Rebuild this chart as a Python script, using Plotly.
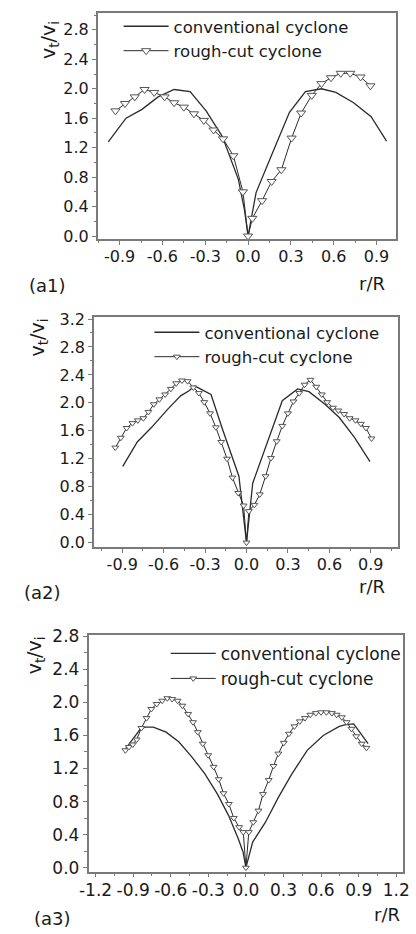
import plotly.graph_objects as go

W, H = 416, 934

# ---------------- data ----------------
# panel (a1)
a1_conv_r = [-0.979, -0.855, -0.743, -0.63, -0.518, -0.406, -0.294, -0.18, -0.068, -0.025, 0.0,
             0.056, 0.165, 0.29, 0.402, 0.514, 0.615, 0.739, 0.862, 0.97]
a1_conv_v = [1.28, 1.60, 1.72, 1.89, 1.99, 1.96, 1.70, 1.35, 0.77, 0.35, 0.0,
             0.59, 1.10, 1.68, 1.96, 2.0, 1.95, 1.81, 1.62, 1.29]
a1_rough_r = [-0.929, -0.862, -0.794, -0.725, -0.658, -0.585, -0.518, -0.45, -0.379, -0.31, -0.242,
              -0.175, -0.103, -0.036, 0.0, 0.03, 0.098, 0.165, 0.233, 0.305, 0.372, 0.446, 0.514,
              0.581, 0.649, 0.716, 0.788, 0.857]
a1_rough_v = [1.70, 1.80, 1.89, 1.99, 1.95, 1.89, 1.81, 1.75, 1.66, 1.57, 1.44,
              1.32, 1.09, 0.60, 0.0, 0.24, 0.48, 0.74, 0.90, 1.33, 1.67, 1.91, 2.07,
              2.15, 2.21, 2.21, 2.16, 2.04]

# panel (a2)
a2_conv_r = [-0.896, -0.791, -0.687, -0.57, -0.477, -0.419, -0.373, -0.257, -0.175, -0.105, -0.055,
             -0.036, 0.0, 0.045, 0.150, 0.259, 0.370, 0.452, 0.568, 0.672, 0.784, 0.894]
a2_conv_v = [1.09, 1.44, 1.65, 1.91, 2.10, 2.17, 2.24, 2.12, 1.63, 1.25, 0.95,
             0.62, 0.0, 0.85, 1.44, 2.03, 2.20, 2.16, 1.98, 1.79, 1.50, 1.16]
a2_rough_r = [-0.95, -0.91, -0.868, -0.826, -0.787, -0.747, -0.71, -0.671, -0.631, -0.589, -0.548,
              -0.509, -0.467, -0.427, -0.385, -0.345, -0.306, -0.264, -0.222, -0.183, -0.141,
              -0.102, -0.06, -0.021, 0.0, 0.017, 0.057, 0.096, 0.138, 0.177, 0.219, 0.259,
              0.30, 0.34, 0.382, 0.421, 0.463, 0.505, 0.545, 0.584, 0.626, 0.665, 0.707,
              0.747, 0.789, 0.828, 0.865, 0.905]
a2_rough_v = [1.36, 1.50, 1.64, 1.71, 1.75, 1.78, 1.87, 1.98, 2.05, 2.12, 2.20,
              2.28, 2.32, 2.31, 2.22, 2.14, 2.01, 1.85, 1.65, 1.44, 1.20,
              0.93, 0.71, 0.53, 0.0, 0.45, 0.54, 0.69, 0.95, 1.21, 1.45, 1.67,
              1.85, 2.02, 2.14, 2.26, 2.33, 2.23, 2.12, 2.01, 1.93, 1.89, 1.84,
              1.78, 1.75, 1.70, 1.64, 1.49]

# panel (a3)
a3_conv_r = [-0.97, -0.841, -0.803, -0.739, -0.637, -0.534, -0.432, -0.33, -0.227, -0.138, -0.061,
             -0.023, 0.0, 0.054, 0.156, 0.259, 0.361, 0.489, 0.617, 0.745, 0.796, 0.86, 0.975]
a3_conv_v = [1.42, 1.68, 1.70, 1.70, 1.64, 1.52, 1.34, 1.14, 0.89, 0.63, 0.35,
             0.19, 0.0, 0.31, 0.55, 0.85, 1.12, 1.42, 1.60, 1.71, 1.73, 1.74, 1.50]
a3_rough_r = [-0.962, -0.934, -0.903, -0.872, -0.834, -0.793, -0.755, -0.712, -0.668, -0.627,
              -0.589, -0.545, -0.507, -0.461, -0.422, -0.384, -0.345, -0.301, -0.258, -0.217,
              -0.179, -0.136, -0.097, -0.054, -0.021, 0.0,
              0.023, 0.059, 0.1, 0.136, 0.182, 0.22, 0.259, 0.302, 0.343, 0.387, 0.43, 0.471,
              0.514, 0.558, 0.599, 0.642, 0.686, 0.724, 0.765, 0.803, 0.842, 0.88, 0.924, 0.962]
a3_rough_v = [1.42, 1.46, 1.49, 1.55, 1.69, 1.81, 1.92, 1.98, 2.02, 2.05,
              2.04, 2.02, 1.96, 1.86, 1.76, 1.64, 1.50, 1.36, 1.22, 1.07,
              0.90, 0.77, 0.60, 0.49, 0.43, 0.0,
              0.43, 0.55, 0.69, 0.89, 1.06, 1.23, 1.38, 1.51, 1.62, 1.71, 1.77, 1.81,
              1.85, 1.87, 1.88, 1.88, 1.87, 1.85, 1.82, 1.76, 1.68, 1.59, 1.50, 1.45]

series_names = ["conventional cyclone", "rough-cut cyclone"]
panel_labels = ["(a1)", "(a2)", "(a3)"]
x_title = "r/R"
y_title = "v<sub>t</sub>/v<sub>i</sub>"

FONT = "DejaVu Sans"
LINE = "#2b2b2b"
AXIS = "#7a7a7a"

# ---------------- layout geometry (pixels) ----------------
panels = [
    dict(conv=(a1_conv_r, a1_conv_v), rough=(a1_rough_r, a1_rough_v),
         px=(92.3, 402), py=(4, 234), xr=[-1.053, 1.033], yr=[-0.044, 3.03],
         xt=[-0.9, -0.6, -0.3, 0.0, 0.3, 0.6, 0.9], yt=[0.0, 0.4, 0.8, 1.2, 1.6, 2.0, 2.4, 2.8],
         msize=8, tickfs=16, legfs=16.5, leg=(114, 0),
         lab=(40, 281), rr=(378, 279), yti=(42, 31)),
    dict(conv=(a2_conv_r, a2_conv_v), rough=(a2_rough_r, a2_rough_v),
         px=(88.3, 405), py=(313.3, 546.7), xr=[-1.105, 1.10], yr=[-0.062, 3.225],
         xt=[-0.9, -0.6, -0.3, 0.0, 0.3, 0.6, 0.9], yt=[0.0, 0.4, 0.8, 1.2, 1.6, 2.0, 2.4, 2.8, 3.2],
         msize=6, tickfs=16, legfs=16.5, leg=(146, 311),
         lab=(35, 593), rr=(378, 587), yti=(31, 334)),
    dict(conv=(a3_conv_r, a3_conv_v), rough=(a3_rough_r, a3_rough_v),
         px=(82.7, 409.3), py=(636.5, 876.7), xr=[-1.256, 1.25], yr=[-0.048, 2.812],
         xt=[-1.2, -0.9, -0.6, -0.3, 0.0, 0.3, 0.6, 0.9, 1.2], yt=[0.0, 0.4, 0.8, 1.2, 1.6, 2.0, 2.4, 2.8],
         msize=6, tickfs=17, legfs=17, leg=(163, 637),
         lab=(45, 924), rr=(393, 920), yti=(28, 657)),
]

fig = go.Figure()
layout = dict(width=W, height=H, margin=dict(l=0, r=0, t=0, b=0),
              paper_bgcolor="white", plot_bgcolor="white", showlegend=True,
              font=dict(family=FONT, color="#1a1a1a"))
annotations = []

for i, p in enumerate(panels):
    n = i + 1
    xa = "x" if n == 1 else f"x{n}"
    ya = "y" if n == 1 else f"y{n}"
    lg = "legend" if n == 1 else f"legend{n}"
    fig.add_trace(go.Scatter(x=p["conv"][0], y=p["conv"][1], mode="lines",
                             name=series_names[0], xaxis=xa, yaxis=ya, legend=lg,
                             line=dict(color=LINE, width=1.3)))
    fig.add_trace(go.Scatter(x=p["rough"][0], y=p["rough"][1], mode="lines+markers",
                             name=series_names[1], xaxis=xa, yaxis=ya, legend=lg,
                             line=dict(color=LINE, width=1),
                             marker=dict(symbol="triangle-down", size=p["msize"], color="white",
                                         line=dict(color="#555555", width=1))))
    xd = [p["px"][0] / W, p["px"][1] / W]
    yd = [1 - p["py"][1] / H, 1 - p["py"][0] / H]
    common = dict(showline=True, linecolor=AXIS, linewidth=1.5, mirror=True,
                  showgrid=False, zeroline=False, ticks="outside", ticklen=4,
                  tickcolor=AXIS, tickwidth=1, ticklabeloverflow="allow",
                  tickfont=dict(family=FONT, size=p["tickfs"], color="#1a1a1a"))
    layout["xaxis" if n == 1 else f"xaxis{n}"] = dict(
        domain=xd, range=p["xr"], anchor=ya, tickvals=p["xt"],
        ticktext=[f"{v:.1f}" for v in p["xt"]], ticklabelstandoff=-2,
        minor=dict(dtick=0.15, tick0=0, ticks="outside", ticklen=2.5, tickcolor=AXIS),
        **common)
    layout["yaxis" if n == 1 else f"yaxis{n}"] = dict(
        domain=yd, range=p["yr"], anchor=xa, tickvals=p["yt"],
        ticktext=[f"{v:.1f}" for v in p["yt"]],
        minor=dict(dtick=0.2, tick0=0, ticks="outside", ticklen=2.5, tickcolor=AXIS),
        **common)
    layout[lg] = dict(x=p["leg"][0] / W, y=1 - p["leg"][1] / H, xanchor="left", yanchor="top",
                      bgcolor="rgba(0,0,0,0)", borderwidth=0, itemwidth=45,
                      font=dict(family=FONT, size=p["legfs"], color="#1a1a1a"),
                      tracegroupgap=0)
    annotations.append(dict(x=p["lab"][0] / W, y=1 - p["lab"][1] / H, xref="paper", yref="paper",
                            text=panel_labels[i], showarrow=False, xanchor="center", yanchor="middle",
                            font=dict(family=FONT, size=18, color="#1a1a1a")))
    annotations.append(dict(x=p["rr"][0] / W, y=1 - p["rr"][1] / H, xref="paper", yref="paper",
                            text=x_title, showarrow=False, xanchor="center", yanchor="middle",
                            font=dict(family=FONT, size=18, color="#1a1a1a")))
    annotations.append(dict(x=p["yti"][0] / W, y=1 - p["yti"][1] / H, xref="paper", yref="paper",
                            text=y_title, showarrow=False, xanchor="center", yanchor="middle",
                            textangle=-90, font=dict(family=FONT, size=19, color="#1a1a1a")))

layout["annotations"] = annotations
fig.update_layout(**layout)
fig.write_html("out.html")
